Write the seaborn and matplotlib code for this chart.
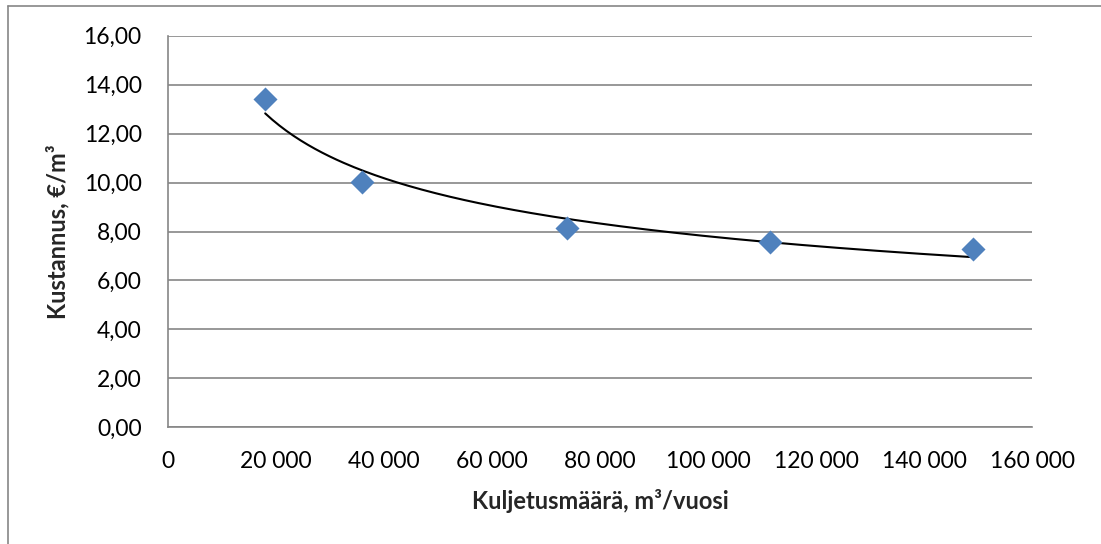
import numpy as np
import pandas as pd
import matplotlib
matplotlib.use("Agg")
import matplotlib.pyplot as plt
from matplotlib.ticker import FuncFormatter, MultipleLocator
from matplotlib.lines import Line2D
import seaborn as sns

# Data
volume = [18000, 36000, 73800, 111400, 149000]   # m³/vuosi
cost = [13.41, 10.04, 8.15, 7.56, 7.27]          # €/m³
x_label = "Kuljetusmäärä, m³/vuosi"
y_label = "Kustannus, €/m³"

df = pd.DataFrame({"x": volume, "y": cost})

sns.set_theme(style="white")
plt.rcParams["font.family"] = ["Lato", "DejaVu Sans"]

W, H = 1101, 544
fig = plt.figure(figsize=(W / 100, H / 100), dpi=100)
left, right, top, bottom = 168, 1032, 35.7, 427.3
ax = fig.add_axes([left / W, 1 - bottom / H, (right - left) / W, (bottom - top) / H])

# Power trendline (Excel style) fitted from data
lx, ly = np.log(df["x"]), np.log(df["y"])
b, a = np.polyfit(lx, ly, 1)
xs = np.linspace(df["x"].min(), df["x"].max(), 200)
trend = pd.DataFrame({"x": xs, "y": np.exp(a) * xs ** b})

sns.scatterplot(data=df, x="x", y="y", marker="D", s=150, color="#4F81BD",
                edgecolor="#4F81BD", linewidth=0, ax=ax, zorder=3)
sns.lineplot(data=trend, x="x", y="y", color="black", linewidth=1.5, ax=ax, zorder=2)

ax.set_xlim(0, 160000)
ax.set_ylim(0, 16)
ax.xaxis.set_major_locator(MultipleLocator(20000))
ax.yaxis.set_major_locator(MultipleLocator(2))
ax.xaxis.set_major_formatter(FuncFormatter(lambda v, p: f"{v:,.0f}".replace(",", " ")))
ax.yaxis.set_major_formatter(FuncFormatter(lambda v, p: f"{v:.2f}".replace(".", ",")))

ax.grid(axis="y", color="#868686", linewidth=1.2)
ax.set_axisbelow(True)
for s in ["top", "right"]:
    ax.spines[s].set_visible(False)
for s in ["left", "bottom"]:
    ax.spines[s].set_color("#868686")
    ax.spines[s].set_linewidth(1.2)

ax.tick_params(axis="both", length=0, labelsize=16.5, colors="black")
ax.tick_params(axis="y", pad=19)
ax.tick_params(axis="x", pad=17)

ax.set_xlabel(x_label, fontsize=17, fontweight="bold", labelpad=12)
ax.set_ylabel(y_label, fontsize=17, fontweight="bold", labelpad=10)

# Chart frame
fig.add_artist(Line2D([8 / W, 8 / W], [0, 1 - 6 / H], transform=fig.transFigure, color="#868686", linewidth=1.2))
fig.add_artist(Line2D([8 / W, 1], [1 - 6 / H, 1 - 6 / H], transform=fig.transFigure, color="#868686", linewidth=1.2))

fig.savefig("out.png", dpi=100)
